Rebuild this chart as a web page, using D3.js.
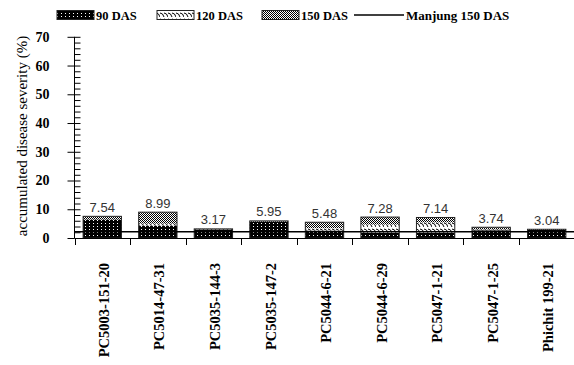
<!DOCTYPE html>
<html>
<head>
<meta charset="utf-8">
<script src="https://cdn.jsdelivr.net/npm/d3@7"></script>
<style>
  html, body { margin: 0; padding: 0; background: #fff; }
  svg { display: block; }
  .serif { font-family: "Liberation Serif", "Times New Roman", Times, serif; }
  .heavy { font-weight: bold; fill: #000; }
  .sans { font-family: "Liberation Sans", Arial, sans-serif; }
</style>
</head>
<body>
<svg id="chart" width="574" height="365"></svg>
<script>
// Accumulated disease severity per line, stacked by assessment date
const categories = ["PC5003-151-20", "PC5014-47-31", "PC5035-144-3", "PC5035-147-2",
  "PC5044-6-21", "PC5044-6-29", "PC5047-1-21", "PC5047-1-25", "Phichit 199-21"];
const das90  = [6.40, 4.30, 3.00, 5.70, 2.60, 1.80, 1.80, 2.70, 2.80];
const das120 = [0.00, 0.70, 0.00, 0.00, 0.80, 2.90, 3.60, 0.30, 0.00];
const das150 = [1.14, 3.99, 0.17, 0.25, 2.08, 2.58, 1.74, 0.74, 0.24];
const totals = ["7.54", "8.99", "3.17", "5.95", "5.48", "7.28", "7.14", "3.74", "3.04"];
const manjung150 = 2.2;
const yTicks = [0, 10, 20, 30, 40, 50, 60, 70];
const seriesNames = ["90 DAS", "120 DAS", "150 DAS"];
const lineName = "Manjung 150 DAS";

const svg = d3.select("#chart");

// fill patterns
const defs = svg.append("defs");
const p90 = defs.append("pattern").attr("id", "pat90").attr("patternUnits", "userSpaceOnUse")
  .attr("width", 4).attr("height", 3);
p90.append("rect").attr("width", 4).attr("height", 3).attr("fill", "#000");
p90.append("rect").attr("x", 1).attr("y", 1).attr("width", 1).attr("height", 1).attr("fill", "#fff");

const p120 = defs.append("pattern").attr("id", "pat120").attr("patternUnits", "userSpaceOnUse")
  .attr("width", 8).attr("height", 6);
p120.append("rect").attr("width", 8).attr("height", 6).attr("fill", "#fff");
p120.append("path").attr("d", "M0,1 Q3,1 4,5 M4,1 Q7,1 8,5")
  .attr("fill", "none").attr("stroke", "#000").attr("stroke-width", 1);

const p150 = defs.append("pattern").attr("id", "pat150").attr("patternUnits", "userSpaceOnUse")
  .attr("width", 2).attr("height", 2);
p150.append("rect").attr("width", 2).attr("height", 2).attr("fill", "#fff");
p150.append("rect").attr("width", 1).attr("height", 1).attr("fill", "#000");
p150.append("rect").attr("x", 1).attr("y", 1).attr("width", 1).attr("height", 1).attr("fill", "#000");

const fills = ["url(#pat90)", "url(#pat120)", "url(#pat150)"];

// scales
const x = d3.scaleBand().domain(categories).range([74.5, 574.5]).paddingInner(0.31).paddingOuter(0.155);
const xb = d3.scaleBand().domain(categories).range([74.5, 574.5]);
const y = d3.scaleLinear().domain([0, 70]).range([238, 36.8]);

// stacked data
const rows = categories.map((c, i) => ({ cat: c, s0: das90[i], s1: das120[i], s2: das150[i] }));
const stack = d3.stack().keys(["s0", "s1", "s2"])(rows);

const layers = svg.append("g").selectAll("g").data(stack).join("g")
  .attr("fill", (d, i) => fills[i]);
layers.selectAll("rect").data(d => d.filter(v => v[1] - v[0] > 0)).join("rect")
  .attr("x", d => x(d.data.cat))
  .attr("width", x.bandwidth())
  .attr("y", d => y(d[1]))
  .attr("height", d => y(d[0]) - y(d[1]));

// bar outlines
svg.append("g").selectAll("rect").data(rows).join("rect")
  .attr("x", d => x(d.cat))
  .attr("width", x.bandwidth())
  .attr("y", d => y(d.s0 + d.s1 + d.s2))
  .attr("height", d => y(0) - y(d.s0 + d.s1 + d.s2))
  .attr("fill", "none").attr("stroke", "#222").attr("stroke-width", 1);

// value labels
svg.append("g").attr("class", "sans").selectAll("text").data(rows).join("text")
  .attr("x", d => x(d.cat) + x.bandwidth() / 2)
  .attr("y", (d, i) => y(+totals[i]) - 4.5)
  .attr("text-anchor", "middle")
  .style("font-size", "13px")
  .attr("fill", "#333")
  .text((d, i) => totals[i]);

// reference line
svg.append("line")
  .attr("x1", 74.5).attr("x2", 574)
  .attr("y1", y(manjung150)).attr("y2", y(manjung150))
  .attr("stroke", "#000").attr("stroke-width", 1.6);

// y axis: major ticks outside, minor ticks inside
const yAxis = svg.append("g").attr("transform", "translate(74.5,0)")
  .call(d3.axisLeft(y).tickValues(yTicks).tickSize(7).tickPadding(18).tickFormat(d3.format("d")));
yAxis.attr("font-family", null).attr("font-size", null).attr("class", "serif");
yAxis.selectAll("text").attr("class", "heavy").style("font-size", "14px");
yAxis.select(".domain").attr("d", `M0,${y(0)}V${y(70)}`);
const yMinor = svg.append("g").attr("transform", "translate(74.5,0)")
  .call(d3.axisRight(y).tickValues(d3.range(0, 71, 2)).tickSize(6).tickFormat(""));
yMinor.select(".domain").remove();

// x axis
svg.append("line").attr("x1", 74.5).attr("x2", 574).attr("y1", 238.5).attr("y2", 238.5)
  .attr("stroke", "#000").attr("stroke-width", 1);
svg.append("g").selectAll("line").data(categories).join("line")
  .attr("x1", d => Math.round(xb(d)) + 0.5).attr("x2", d => Math.round(xb(d)) + 0.5)
  .attr("y1", 238.5).attr("y2", 245)
  .attr("stroke", "#000").attr("stroke-width", 1);

svg.append("g").attr("class", "serif").selectAll("text").data(categories).join("text")
  .attr("class", "heavy")
  .attr("transform", d => `translate(${xb(d) + xb.bandwidth() / 2 + 1.5},263) rotate(-90)`)
  .attr("text-anchor", "end")
  .attr("dy", "0.35em")
  .style("font-size", "14.5px")
  .text(d => d);

// y title
svg.append("text").attr("class", "serif")
  .attr("transform", "translate(22,136) rotate(-90)")
  .attr("text-anchor", "middle").attr("dy", "0.35em")
  .style("font-size", "15px")
  .text("accumulated disease severity (%)");

// legend
const legendX = [57, 157, 262];
const lg = svg.append("g").attr("class", "serif");
seriesNames.forEach((name, i) => {
  lg.append("rect").attr("x", legendX[i]).attr("y", 10.5).attr("width", 37).attr("height", 9)
    .attr("fill", fills[i]).attr("stroke", "#222").attr("stroke-width", 1);
  lg.append("text").attr("class", "heavy").attr("x", legendX[i] + 39).attr("y", 19.5)
    .style("font-size", "12.5px")
    .text(name);
});
lg.append("line").attr("x1", 354).attr("x2", 404).attr("y1", 15).attr("y2", 15)
  .attr("stroke", "#000").attr("stroke-width", 1.6);
lg.append("text").attr("class", "heavy").attr("x", 406).attr("y", 19.5)
  .style("font-size", "13px")
  .text(lineName);
</script>
</body>
</html>
